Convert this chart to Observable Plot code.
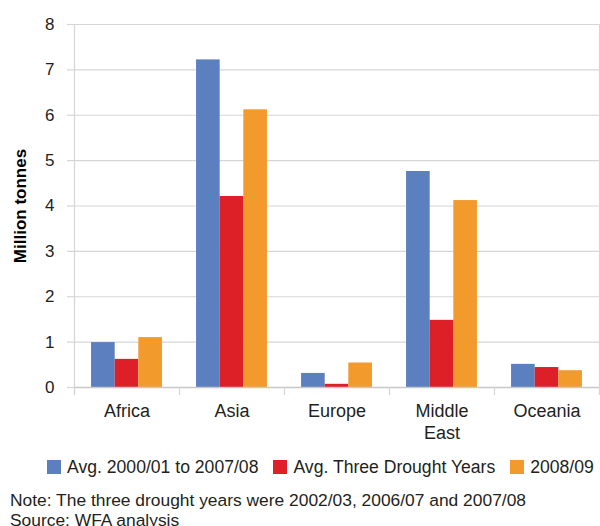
<!DOCTYPE html>
<html>
<head>
<meta charset="utf-8">
<script src="https://cdn.jsdelivr.net/npm/d3@7"></script>
<script src="https://cdn.jsdelivr.net/npm/@observablehq/plot@0.6"></script>
<style>
  body { margin: 0; background: #fff; font-family: "Liberation Sans", Arial, sans-serif; color: #231f20; }
  #chart svg { display: block; }
  #legend { display: flex; align-items: center; height: 20px; margin-top: 9px; padding-left: 47px; font-size: 17.6px; white-space: nowrap; }
  #legend .item { display: flex; align-items: center; margin-right: 15px; }
  #legend .sw { width: 14px; height: 14px; margin-right: 6px; flex: none; }
  #notes { margin-top: 13px; padding-left: 10px; font-size: 17.4px; line-height: 20px; white-space: nowrap; }
</style>
</head>
<body>
<div id="chart"></div>
<div id="legend"></div>
<div id="notes"></div>
<script>
// Cereal import volumes by region, million tonnes
const regions = ["Africa", "Asia", "Europe", "Middle East", "Oceania"];
const seriesNames = ["Avg. 2000/01 to 2007/08", "Avg. Three Drought Years", "2008/09"];
const avgAllYears = [0.99, 7.22, 0.31, 4.76, 0.51];
const avgDroughtYears = [0.62, 4.21, 0.07, 1.48, 0.44];
const year0809 = [1.10, 6.12, 0.54, 4.12, 0.37];
const seriesColors = ["#5b7fbf", "#dd1f27", "#f39a2d"];
const yTicks = [0, 1, 2, 3, 4, 5, 6, 7, 8];
const yLabel = "Million tonnes";
const noteLines = [
  "Note: The three drought years were 2002/03, 2006/07 and 2007/08",
  "Source: WFA analysis"
];

// Grouped layout: each region occupies one unit on a linear x scale
const barWidth = 0.225;
const seriesValues = [avgAllYears, avgDroughtYears, year0809];
const rows = [];
regions.forEach((region, i) => {
  seriesNames.forEach((s, j) => {
    const left = i + 0.5 + (j - 1.5) * barWidth;
    rows.push({region, series: s, x1: left, x2: left + barWidth, value: seriesValues[j][i]});
  });
});
const regionLabels = regions.map((r, i) => ({pos: i + 0.5, label: r.replace(" ", "\n")}));

const gridColor = "#d6d6d6";
const chart = Plot.plot({
  width: 600,
  height: 448,
  marginLeft: 74,
  marginRight: 1,
  marginTop: 24,
  marginBottom: 61,
  style: {fontFamily: "'Liberation Sans', Arial, sans-serif", fontSize: "17px", color: "#231f20", background: "#fff"},
  x: {domain: [0, regions.length], axis: null},
  y: {domain: [0, 8], axis: null},
  color: {domain: seriesNames, range: seriesColors},
  marks: [
    Plot.ruleY(yTicks.slice(1), {stroke: gridColor, strokeWidth: 1.2}),
    Plot.ruleX([0, regions.length], {stroke: gridColor, strokeWidth: 1.2, y1: 8, y2: 0, insetBottom: -8}),
    Plot.rectY(rows, {x1: "x1", x2: "x2", y: "value", fill: "series"}),
    Plot.ruleY([0], {stroke: "#c8c8c8", strokeWidth: 1.5}),
    Plot.axisX(d3.range(regions.length + 1), {tickSize: 8, tickFormat: () => "", stroke: gridColor, strokeWidth: 1.2}),
    Plot.axisY(yTicks, {tickSize: 7, tickPadding: 13, stroke: gridColor, strokeWidth: 1.2, fill: "#231f20", fontSize: 17, label: null}),
    Plot.text(regionLabels, {x: "pos", y: 0, text: "label", lineAnchor: "top", dy: 15, fontSize: 18, lineHeight: 1.17, fill: "#231f20"}),
    Plot.text([yLabel], {frameAnchor: "left", textAnchor: "middle", dx: -54, rotate: -90, fontWeight: "bold", fontSize: 17, fill: "#000"})
  ]
});
document.getElementById("chart").append(chart);

// Legend
const legend = document.getElementById("legend");
seriesNames.forEach((s, j) => {
  const item = document.createElement("div");
  item.className = "item";
  const sw = document.createElement("div");
  sw.className = "sw";
  sw.style.background = seriesColors[j];
  const t = document.createElement("span");
  t.textContent = s;
  item.append(sw, t);
  legend.append(item);
});

// Notes
const notes = document.getElementById("notes");
noteLines.forEach(line => {
  const d = document.createElement("div");
  d.textContent = line;
  notes.append(d);
});
</script>
</body>
</html>
